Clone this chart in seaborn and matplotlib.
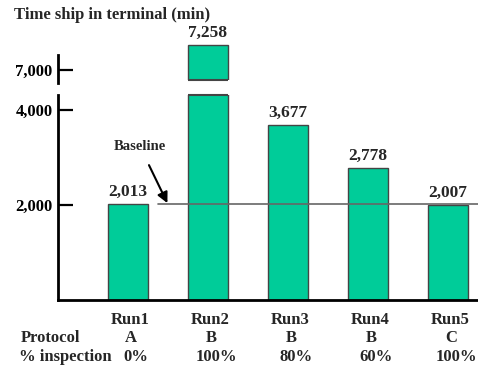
import matplotlib
matplotlib.use("Agg")
import matplotlib.pyplot as plt
import matplotlib.transforms as mtransforms
import seaborn as sns
import pandas as pd

# Data
runs = ["Run1", "Run2", "Run3", "Run4", "Run5"]
minutes = [2013, 7258, 3677, 2778, 2007]
protocols = ["A", "B", "B", "B", "C"]
inspection = ["0%", "100%", "80%", "60%", "100%"]
lower_ticks = [2000, 4000]
upper_ticks = [7000]
title = "Time ship in terminal (min)"

df = pd.DataFrame({"run": runs, "minutes": minutes})
baseline = minutes[0]

sns.set_style("white")
plt.rcParams["font.family"] = ["Liberation Serif", "DejaVu Serif"]
plt.rcParams["font.weight"] = "bold"

W, H = 478, 369
fig = plt.figure(figsize=(W / 100, H / 100), dpi=100)


def px_axes(left, top, right, bottom):
    return fig.add_axes([left / W, 1 - bottom / H, (right - left) / W, (bottom - top) / H])


bar_color = "#00CC99"
edge_color = "#444444"

ax_lo = px_axes(58, 95, 478, 300)
ax_hi = px_axes(58, 44, 478, 80)

for ax in (ax_lo, ax_hi):
    sns.barplot(data=df, x="run", y="minutes", ax=ax, color=bar_color,
                saturation=1, width=0.5, edgecolor=edge_color, linewidth=1.0)
    ax.set_xlim(-0.875, 4.375)
    ax.set_xlabel("")
    ax.set_ylabel("")
    for side in ("top", "right", "bottom", "left"):
        ax.spines[side].set_visible(False)
    ax.tick_params(axis="y", left=True, direction="in", length=11, width=1.6,
                   pad=4, labelsize=12, colors="black")
    ax.tick_params(axis="x", bottom=False, length=0)
    ax.set_facecolor("white")

# Lower (unbroken) part of the value axis
ax_lo.set_ylim(0, 4316)
ax_lo.set_yticks(lower_ticks)
ax_lo.set_yticklabels([f"{v:,}" for v in lower_ticks], fontweight="bold")
ax_lo.set_xticklabels([])
ax_lo.spines["left"].set_visible(True)
ax_lo.spines["bottom"].set_visible(True)
for s in ("left", "bottom"):
    ax_lo.spines[s].set_linewidth(2)
    ax_lo.spines[s].set_color("black")

# Upper part of the broken axis
ax_hi.set_ylim(6897, 7268)
ax_hi.set_yticks(upper_ticks)
ax_hi.set_yticklabels([f"{v:,}" for v in upper_ticks], fontweight="bold")
ax_hi.set_xticks([])
ax_hi.spines["left"].set_visible(True)
ax_hi.spines["left"].set_linewidth(2)
ax_hi.spines["left"].set_color("black")
ax_hi.spines["left"].set_bounds(6866, 7155)

# Close the outline of the bar cut by the axis break
lo_top = ax_lo.get_ylim()[1]
for i, v in enumerate(minutes):
    if v > lo_top:
        p = ax_lo.patches[i]
        x0, x1 = p.get_x(), p.get_x() + p.get_width()
        ax_lo.plot([x0, x1], [lo_top, lo_top], color=edge_color, lw=1.5,
                   clip_on=False, solid_capstyle="butt")
        lo_hi = ax_hi.get_ylim()[0]
        ax_hi.plot([x0, x1], [lo_hi, lo_hi], color=edge_color, lw=1.5,
                   clip_on=False, solid_capstyle="butt")

# Value labels
for i, v in enumerate(minutes):
    target = ax_hi if v > lo_top else ax_lo
    target.annotate(f"{v:,}", xy=(i, v), xytext=(0, 3), textcoords="offset points",
                    ha="center", va="bottom", fontsize=12.5, fontweight="bold",
                    annotation_clip=False)

# Baseline reference line and its callout
ax_lo.axhline(baseline, xmin=(0.375 + 0.875) / 5.25, xmax=1, color="#666666", lw=1.2)
ax_lo.annotate("Baseline", xy=(0.5, baseline), xytext=(0.15, 3230),
               ha="center", va="center", fontsize=10.5, fontweight="bold",
               arrowprops=dict(arrowstyle="-|>,head_length=0.6,head_width=0.3",
                               color="black", lw=1.5, shrinkA=7, shrinkB=1))

# Category table below the bars (each row nudged right by a few pixels)
base_trans = mtransforms.blended_transform_factory(ax_lo.transData, fig.transFigure)
rows = [(320, 2, runs), (338, 3, protocols), (357, 8, inspection)]
for ypx, dx, labels in rows:
    trans = base_trans + mtransforms.ScaledTranslation(dx / 100, 0, fig.dpi_scale_trans)
    for i, lab in enumerate(labels):
        ax_lo.text(i, 1 - ypx / H, lab, transform=trans, ha="center", va="center",
                   fontsize=12, fontweight="bold", clip_on=False)
fig.text(21 / W, 1 - 338 / H, "Protocol", ha="left", va="center",
         fontsize=12, fontweight="bold")
fig.text(19 / W, 1 - 357 / H, "% inspection", ha="left", va="center",
         fontsize=12, fontweight="bold")

fig.text(14 / W, 1 - 15 / H, title, ha="left", va="center",
         fontsize=12, fontweight="bold")

fig.savefig("out.png", dpi=100, facecolor="white")
